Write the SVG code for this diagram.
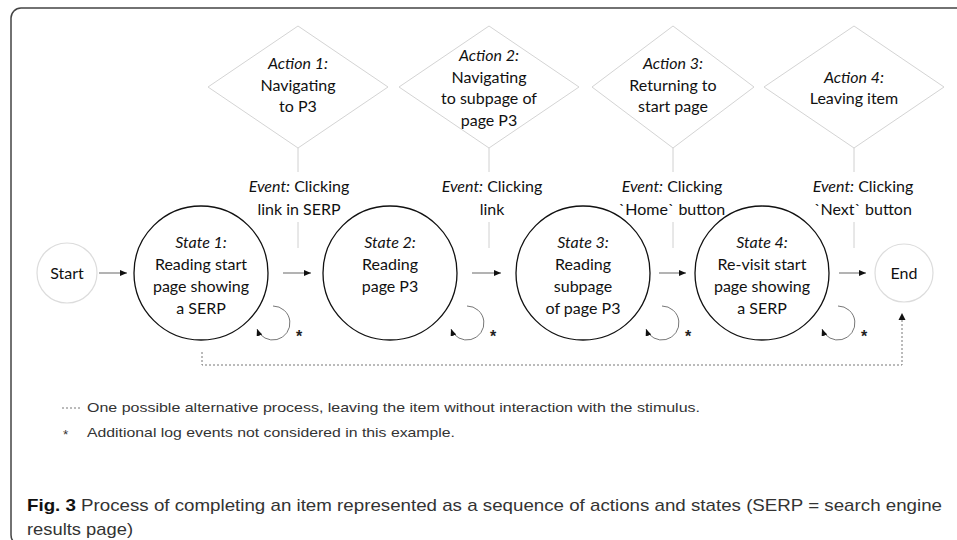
<svg xmlns="http://www.w3.org/2000/svg" width="957" height="540" viewBox="0 0 957 540">
<style>
.t{font-family:Lato,"Liberation Sans",sans-serif;font-size:16px;fill:#111;text-anchor:middle}
.i{font-style:italic}
.dia{fill:#fff;stroke:#d4d4d4;stroke-width:1}
.st{fill:#fff;stroke:#111;stroke-width:1.3}
.se{fill:#fff;stroke:#dcdcdc;stroke-width:1.2}
.vl{stroke:#d0d0d0;stroke-width:1;fill:none}
.ar{stroke:#8a8a8a;stroke-width:1.3;fill:none;marker-end:url(#ah)}
.lp{stroke:#777;stroke-width:1;fill:none;marker-end:url(#ah)}
.dot{stroke:#777;stroke-width:1;stroke-dasharray:2 2;fill:none}
.ast{font-family:"Liberation Sans",sans-serif;font-size:16px;font-weight:bold;fill:#222;text-anchor:middle}
.lg{font-family:"Liberation Sans Narrow","Liberation Sans",sans-serif;font-size:13.5px;fill:#333}
.cap{font-family:"Liberation Sans Narrow","Liberation Sans",sans-serif;font-size:17px;fill:#333}
</style>
<defs>
<marker id="ah" markerWidth="8" markerHeight="8" refX="7" refY="3" orient="auto" markerUnits="userSpaceOnUse">
<path d="M0,0 L7,3 L0,6 Z" fill="#111"/>
</marker>
</defs>
<rect x="11" y="8" width="1000" height="537" rx="10" fill="none" stroke="#444" stroke-width="1.5"/>

<g id="connectors">
<path class="vl" d="M298,148 V172 M298,222 V248"/>
<path class="vl" d="M489,148 V172 M489,222 V248"/>
<path class="vl" d="M673,148 V172 M673,222 V248"/>
<path class="vl" d="M854,148 V172 M854,222 V248"/>
<path class="ar" d="M99,273 H127"/>
<path class="ar" d="M283,273 H311"/>
<path class="ar" d="M472,273 H501"/>
<path class="ar" d="M659,273 H686"/>
<path class="ar" d="M839,273 H866"/>
<path class="lp" d="M273,306 A17,17 0 1 1 257,329"/>
<path class="lp" d="M467,306 A17,17 0 1 1 451,329"/>
<path class="lp" d="M662,306 A17,17 0 1 1 646,329"/>
<path class="lp" d="M838,306 A17,17 0 1 1 822,329"/>
<path class="dot" d="M202,352 V365 H902 V320"/>
<path d="M898.5,320 L902,313 L905.5,320 Z" fill="#111"/>
<text class="ast" x="299" y="342">*</text>
<text class="ast" x="493" y="342">*</text>
<text class="ast" x="688" y="342">*</text>
<text class="ast" x="864" y="342">*</text>
</g>

<g id="action1">
<polygon class="dia" points="298,26 388,87 298,148 208,87"/>
<text class="t"><tspan class="i" x="298" y="69">Action 1:</tspan><tspan x="298" y="90.5">Navigating</tspan><tspan x="298" y="112">to P3</tspan></text>
</g>
<g id="action2">
<polygon class="dia" points="489,26 579,87 489,148 399,87"/>
<text class="t"><tspan class="i" x="489" y="61">Action 2:</tspan><tspan x="489" y="82.5">Navigating</tspan><tspan x="489" y="104">to subpage of</tspan><tspan x="489" y="125.5">page P3</tspan></text>
</g>
<g id="action3">
<polygon class="dia" points="673,26 754,87 673,148 592,87"/>
<text class="t"><tspan class="i" x="673" y="69">Action 3:</tspan><tspan x="673" y="90.5">Returning to</tspan><tspan x="673" y="112">start page</tspan></text>
</g>
<g id="action4">
<polygon class="dia" points="854,26 944,87 854,148 764,87"/>
<text class="t"><tspan class="i" x="854" y="82.5">Action 4:</tspan><tspan x="854" y="104">Leaving item</tspan></text>
</g>

<g id="event1"><text class="t"><tspan x="299" y="192"><tspan class="i">Event:</tspan> Clicking</tspan><tspan x="299" y="215">link in SERP</tspan></text></g>
<g id="event2"><text class="t"><tspan x="492" y="192"><tspan class="i">Event:</tspan> Clicking</tspan><tspan x="492" y="215">link</tspan></text></g>
<g id="event3"><text class="t"><tspan x="672" y="192"><tspan class="i">Event:</tspan> Clicking</tspan><tspan x="672" y="215">`Home` button</tspan></text></g>
<g id="event4"><text class="t"><tspan x="863" y="192"><tspan class="i">Event:</tspan> Clicking</tspan><tspan x="863" y="215">`Next` button</tspan></text></g>

<g id="start">
<circle class="se" cx="67" cy="273" r="30"/>
<text class="t" x="67" y="279">Start</text>
</g>
<g id="state1">
<circle class="st" cx="201" cy="273" r="67"/>
<text class="t"><tspan class="i" x="201" y="248">State 1:</tspan><tspan x="201" y="270">Reading start</tspan><tspan x="201" y="292">page showing</tspan><tspan x="201" y="314">a SERP</tspan></text>
</g>
<g id="state2">
<circle class="st" cx="390" cy="273" r="67"/>
<text class="t"><tspan class="i" x="390" y="248">State 2:</tspan><tspan x="390" y="270">Reading</tspan><tspan x="390" y="292">page P3</tspan></text>
</g>
<g id="state3">
<circle class="st" cx="583" cy="273" r="67"/>
<text class="t"><tspan class="i" x="583" y="248">State 3:</tspan><tspan x="583" y="270">Reading</tspan><tspan x="583" y="292">subpage</tspan><tspan x="583" y="314">of page P3</tspan></text>
</g>
<g id="state4">
<circle class="st" cx="762" cy="273" r="67"/>
<text class="t"><tspan class="i" x="762" y="248">State 4:</tspan><tspan x="762" y="270">Re-visit start</tspan><tspan x="762" y="292">page showing</tspan><tspan x="762" y="314">a SERP</tspan></text>
</g>
<g id="end">
<circle class="se" cx="904" cy="273" r="29"/>
<text class="t" x="904" y="279">End</text>
</g>

<g id="legend">
<path class="dot" d="M62,408 H82" stroke-dasharray="1.5 1.5"/>
<text class="lg" x="87" y="412" textLength="613" lengthAdjust="spacingAndGlyphs">One possible alternative process, leaving the item without interaction with the stimulus.</text>
<text class="lg" x="63" y="439" font-size="15">*</text>
<text class="lg" x="87" y="437" textLength="368" lengthAdjust="spacingAndGlyphs">Additional log events not considered in this example.</text>
</g>
<g id="caption">
<text class="cap" x="27" y="511" textLength="915" lengthAdjust="spacingAndGlyphs"><tspan font-weight="bold" fill="#111">Fig. 3</tspan>  Process of completing an item represented as a sequence of actions and states (SERP = search engine</text>
<text class="cap" x="27" y="535" textLength="106" lengthAdjust="spacingAndGlyphs">results page)</text>
</g>
</svg>
